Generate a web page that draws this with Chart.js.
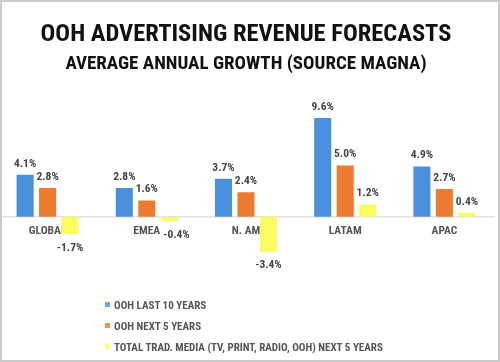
<!DOCTYPE html>
<html>
<head>
<meta charset="utf-8">
<script src="https://cdn.jsdelivr.net/npm/chart.js@4"></script>
<style>
    html, body { margin: 0; padding: 0; background: #fff; }
    #frame {
        position: relative;
        width: 500px;
        height: 362px;
        box-sizing: border-box;
        border: 2px solid #cacaca;
        overflow: hidden;
        background: #fff;
    }
    #chart { position: absolute; left: -5px; top: -2px; }
    #legend {
        position: absolute;
        left: 103px;
        top: 296px;
        font-family: 'Roboto Condensed', 'DejaVu Sans Condensed', sans-serif;
        font-weight: bold;
        font-size: 11px;
        color: #555;
    }
    #legend div { height: 21px; line-height: 16px; white-space: nowrap; }
    #legend span.box {
        display: inline-block;
        width: 5px;
        height: 5px;
        margin-right: 4px;
        vertical-align: 2px;
        opacity: 0.8;
    }
</style>
</head>
<body>
<div id="frame">
    <canvas id="chart" width="500" height="362"></canvas>
    <div id="legend"></div>
</div>
<script>
const regions = ['GLOBAL', 'EMEA', 'N. AM', 'LATAM', 'APAC'];
const seriesNames = ['OOH LAST 10 YEARS', 'OOH NEXT 5 YEARS', 'TOTAL TRAD. MEDIA (TV, PRINT, RADIO, OOH) NEXT 5 YEARS'];
const oohLast10 = [4.1, 2.8, 3.7, 9.6, 4.9];
const oohNext5 = [2.8, 1.6, 2.4, 5.0, 2.7];
const tradMediaNext5 = [-1.7, -0.4, -3.4, 1.2, 0.4];
const colors = ['#4a90dd', '#ed7b2f', '#fbfb62'];

const FONT = "'Roboto Condensed', 'DejaVu Sans Condensed', sans-serif";
const TICK_FONT = 'bold 11.5px ' + FONT;

// value labels on each bar
const valueLabels = {
    id: 'valueLabels',
    afterDatasetsDraw(chart) {
        const ctx = chart.ctx;
        const xScale = chart.scales.x;
        const zero = chart.scales.y.getPixelForValue(0);
        ctx.save();
        ctx.textAlign = 'center';
        chart.data.datasets.forEach((ds, i) => {
            const meta = chart.getDatasetMeta(i);
            meta.data.forEach((bar, j) => {
                const v = ds.data[j];
                const txt = v.toFixed(1) + '%';
                ctx.font = 'bold 11.5px ' + FONT;
                ctx.fillStyle = '#444';
                if (v >= 0) {
                    ctx.textBaseline = 'alphabetic';
                    ctx.fillText(txt, bar.x, bar.y - 8);
                } else {
                    let x = bar.x;
                    const w = ctx.measureText(txt).width;
                    ctx.font = TICK_FONT;
                    const tickRight = xScale.getPixelForTick(j) + ctx.measureText(regions[j]).width / 2;
                    const y = bar.y + 8;
                    // short negative labels sit on the category row: move them clear of it
                    if (y < zero + 21 && x - w / 2 < tickRight + 3) {
                        x = tickRight + 3 + w / 2;
                    }
                    ctx.font = 'bold 11.5px ' + FONT;
                    ctx.textBaseline = 'top';
                    ctx.fillText(txt, x, y);
                }
            });
        });
        ctx.restore();
    }
};

const chart = new Chart(document.getElementById('chart'), {
    type: 'bar',
    data: {
        labels: regions,
        datasets: [
            { label: seriesNames[0], data: oohLast10, backgroundColor: colors[0] },
            { label: seriesNames[1], data: oohNext5, backgroundColor: colors[1] },
            { label: seriesNames[2], data: tradMediaNext5, backgroundColor: colors[2] },
        ],
    },
    options: {
        responsive: false,
        animation: false,
        layout: { padding: { left: 1, right: 3, top: 0, bottom: 103 } },
        datasets: {
            bar: { categoryPercentage: 0.68, barPercentage: 0.76 }
        },
        scales: {
            x: {
                position: { y: 0 },
                grid: { display: false, drawTicks: false },
                border: { color: '#e2e2e2', width: 1.5 },
                ticks: {
                    color: '#555',
                    padding: 7,
                    font: { family: FONT, size: 11.5, weight: 'bold' },
                },
            },
            y: {
                display: false,
                min: -4.1,
                max: 12.8,
            },
        },
        plugins: {
            legend: { display: false },
            tooltip: { enabled: false },
            title: {
                display: true,
                text: 'OOH ADVERTISING REVENUE FORECASTS',
                color: '#111',
                font: { family: FONT, size: 24.5, weight: 'bold' },
                padding: { top: 20, bottom: 3 },
            },
            subtitle: {
                display: true,
                text: 'AVERAGE ANNUAL GROWTH (SOURCE MAGNA)',
                color: '#111',
                font: { family: FONT, size: 19, weight: 'bold' },
                padding: { top: 0, bottom: 10 },
            },
        },
    },
    plugins: [valueLabels],
});

var legend = document.getElementById('legend');
for (let ds of chart.data.datasets) {
    var row = document.createElement('div');
    var box = document.createElement('span');
    box.className = 'box';
    box.style.background = ds.backgroundColor;
    row.appendChild(box);
    row.appendChild(document.createTextNode(ds.label));
    legend.appendChild(row);
}
</script>
</body>
</html>
